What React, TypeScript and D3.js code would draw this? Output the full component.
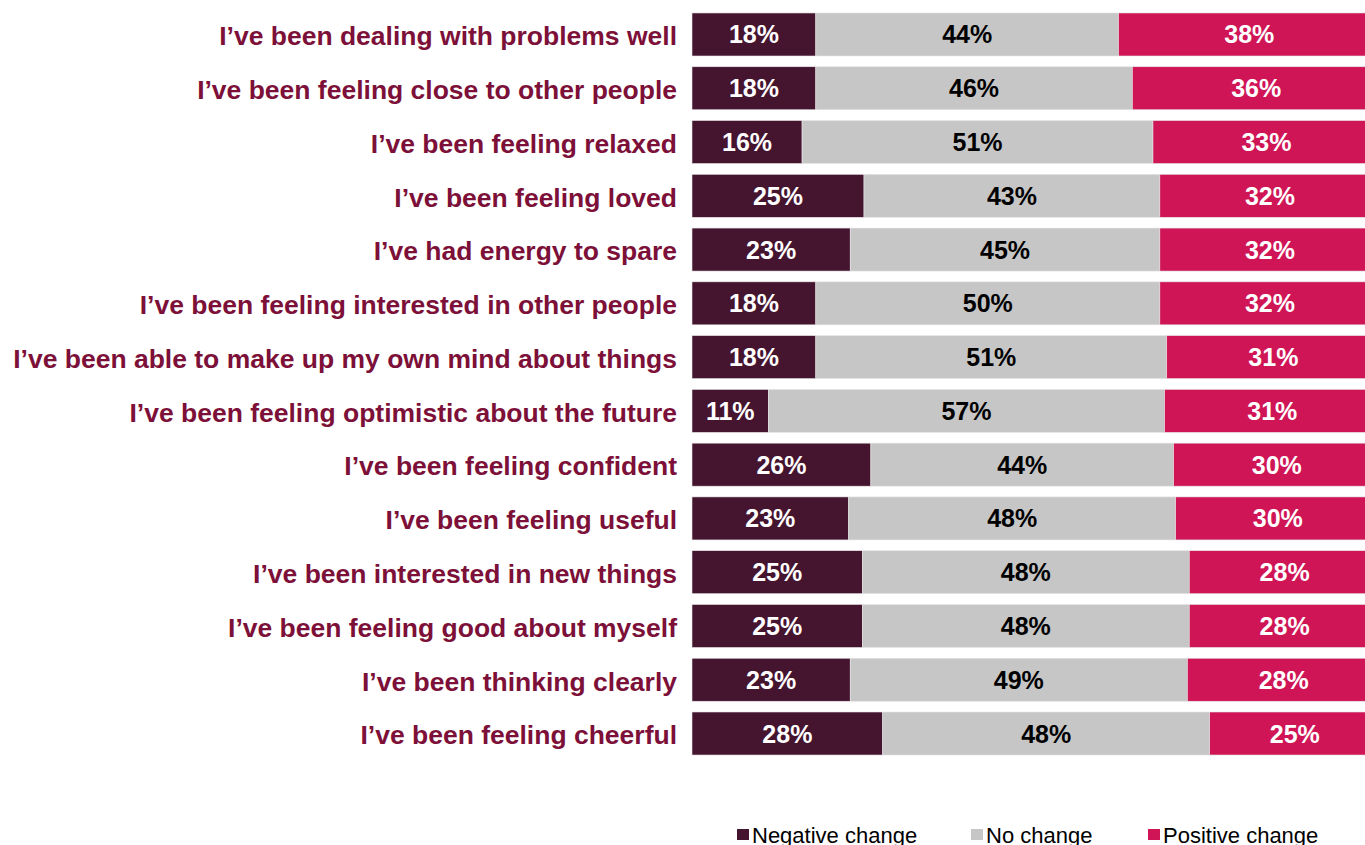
import React, { useEffect, useRef } from 'react';
import * as d3 from 'd3';

const statements = [
  'I’ve been dealing with problems well',
  'I’ve been feeling close to other people',
  'I’ve been feeling relaxed',
  'I’ve been feeling loved',
  'I’ve had energy to spare',
  'I’ve been feeling interested in other people',
  'I’ve been able to make up my own mind about things',
  'I’ve been feeling optimistic about the future',
  'I’ve been feeling confident',
  'I’ve been feeling useful',
  'I’ve been interested in new things',
  'I’ve been feeling good about myself',
  'I’ve been thinking clearly',
  'I’ve been feeling cheerful',
];

const negative = [18, 18, 16, 25, 23, 18, 18, 11, 26, 23, 25, 25, 23, 28];
const noChange = [44, 46, 51, 43, 45, 50, 51, 57, 44, 48, 48, 48, 49, 48];
const positive = [38, 36, 33, 32, 32, 32, 31, 31, 30, 30, 28, 28, 28, 25];

const seriesNames = ['Negative change', 'No change', 'Positive change'];
const seriesColors = ['#45142f', '#c6c6c6', '#cf1556'];
const textColors = ['#ffffff', '#000000', '#ffffff'];

const W = 1365;
const H = 845;
const FONT = '"Liberation Sans", Arial, Helvetica, sans-serif';

const App: React.FC = () => {
  const svgRef = useRef<SVGSVGElement>(null);

  useEffect(() => {
    if (!svgRef.current) return;
    const svg = d3.select(svgRef.current);
    svg.selectAll('*').remove();

    const barLeft = 692;
    const barWidth = 688;

    const y = d3.scaleBand<string>()
      .domain(statements)
      .range([7.6, 760.4])
      .paddingInner(0.2)
      .paddingOuter(0.1);

    const rows = statements.map((s, i) => ({
      label: s,
      values: [negative[i], noChange[i], positive[i]],
    }));

    const g = svg.append('g');

    rows.forEach(row => {
      // each bar is stretched to 100%, so rows whose rounded values add up to 101 still fill the width
      const total = d3.sum(row.values);
      const x = d3.scaleLinear().domain([0, total]).range([barLeft, barLeft + barWidth]);
      const y0 = y(row.label) || 0;
      const cy = y0 + y.bandwidth() / 2;
      let acc = 0;
      row.values.forEach((v, k) => {
        const x0 = x(acc);
        const x1 = x(acc + v);
        g.append('rect')
          .attr('x', x0)
          .attr('y', y0)
          .attr('width', x1 - x0)
          .attr('height', y.bandwidth())
          .attr('fill', seriesColors[k])
          .attr('stroke', '#e6e6e6')
          .attr('stroke-width', 0.6);
        g.append('text')
          .attr('x', (x0 + x1) / 2)
          .attr('y', cy)
          .attr('dy', '0.36em')
          .attr('text-anchor', 'middle')
          .attr('font-family', FONT)
          .attr('font-weight', 'bold')
          .attr('font-size', 25)
          .attr('fill', textColors[k])
          .text(`${v}%`);
        acc += v;
      });

      g.append('text')
        .attr('transform', `translate(677,${cy + 2}) scale(1.06,1)`)
        .attr('dy', '0.35em')
        .attr('text-anchor', 'end')
        .attr('font-family', FONT)
        .attr('font-weight', 'bold')
        .attr('font-size', 25)
        .attr('fill', '#7c1038')
        .text(row.label);
    });

    const legendX = [737, 971, 1148];
    const legend = svg.append('g');
    seriesNames.forEach((name, k) => {
      legend.append('rect')
        .attr('x', legendX[k])
        .attr('y', 829)
        .attr('width', 12)
        .attr('height', 11)
        .attr('fill', seriesColors[k]);
      legend.append('text')
        .attr('x', legendX[k] + 15)
        .attr('y', 843)
        .attr('font-family', FONT)
        .attr('font-size', 22)
        .attr('fill', '#000')
        .text(name);
    });
  }, []);

  return (
    <div style={{ position: 'fixed', left: 0, top: 0, width: W, height: H, overflow: 'hidden', background: '#fff' }}>
      <svg ref={svgRef} width={W} height={H} style={{ display: 'block' }} />
    </div>
  );
};

export default App;
